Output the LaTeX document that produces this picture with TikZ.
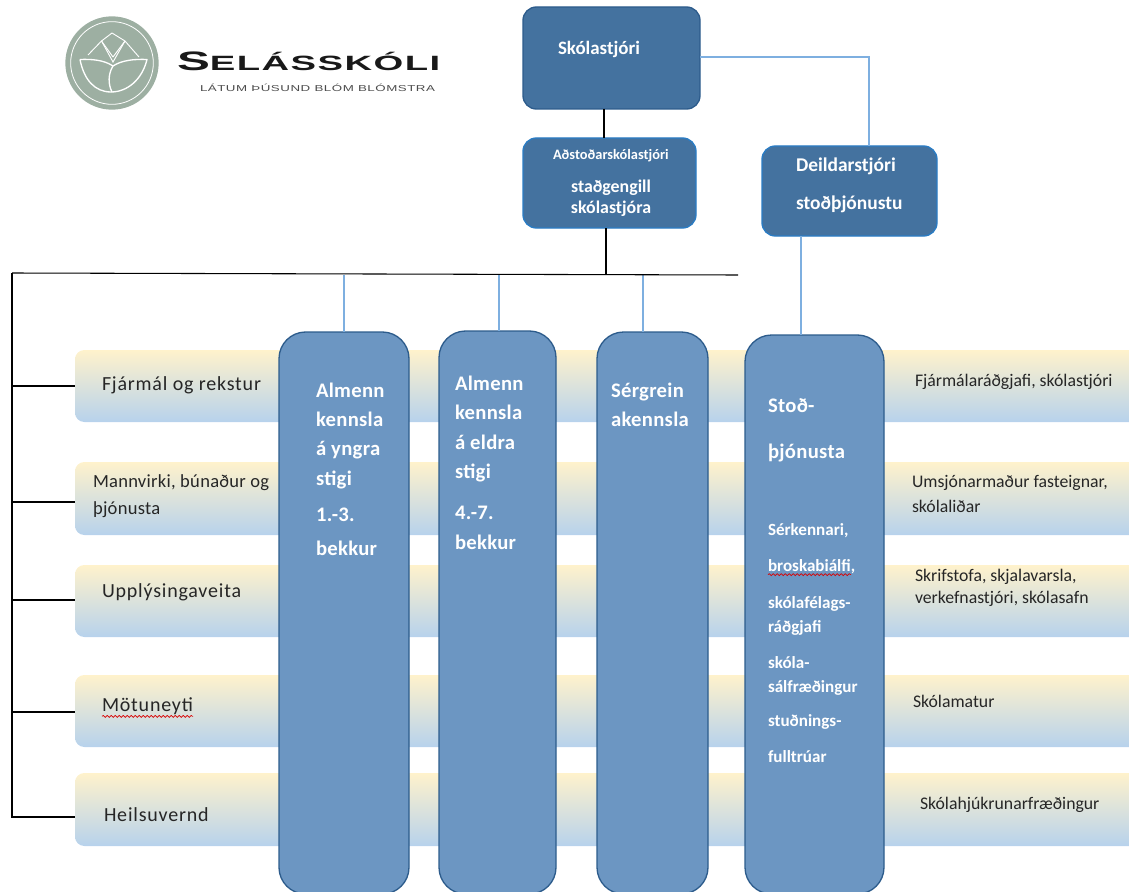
\documentclass[tikz,border=0pt]{standalone}
\usepackage{fontspec}
\setmainfont{Carlito}
\newfontfamily\spaced[LetterSpace=1.5]{Carlito}
\newfontfamily\wide[LetterSpace=4]{Carlito}
\newfontfamily\logofont[FakeStretch=1.85,LetterSpace=7]{Liberation Sans}
\newfontfamily\tagfont[FakeStretch=1.55,LetterSpace=6]{Liberation Sans}
\usetikzlibrary{decorations.pathmorphing}
\definecolor{topblue}{HTML}{44729F}
\definecolor{colblue}{HTML}{6C96C2}
\definecolor{edgeblue}{HTML}{2D5C8C}
\definecolor{brightedge}{HTML}{2A7CC4}
\definecolor{linkblue}{HTML}{7EAFE0}
\definecolor{bandtop}{HTML}{FFF2CC}
\definecolor{bandbot}{HTML}{B7D2EC}
\definecolor{sage}{HTML}{9DAFA2}
\newcommand{\pxbox}[6]{%
  \pgfmathsetmacro{\bw}{(#5-#3)*0.75}\pgfmathsetmacro{\bh}{(#6-#4)*0.75}%
  \node[#2,minimum width=\bw pt,minimum height=\bh pt,anchor=north west] (#1) at (#3,#4) {};}
\newcommand{\lbl}[5]{\node[lbltext,#4] (#1) at (#2,#3) {#5};}
\tikzset{
  lbltext/.style={anchor=north west,inner sep=0pt,outer sep=0pt,align=left,text=black!85},
  coltext/.style={text=white,font=\fontsize{15.5}{22}\selectfont\bfseries\spaced},
  smallcol/.style={text=white,font=\fontsize{12.8}{15}\selectfont\bfseries},
  bandtext/.style={font=\fontsize{15}{18.5}\selectfont\wide},
  righttext/.style={font=\fontsize{13.3}{17}\selectfont},
  band/.style={rectangle,rounded corners=7pt,inner sep=0pt,outer sep=0pt,top color=bandtop,bottom color=bandbot},
  topbox/.style={rectangle,rounded corners=10pt,inner sep=0pt,outer sep=0pt,fill=topblue,draw=edgeblue,line width=1pt},
  topboxb/.style={topbox,draw=brightedge},
  colbox/.style={rectangle,rounded corners=20pt,inner sep=0pt,outer sep=0pt,fill=colblue,draw=edgeblue,line width=1pt},
  blackline/.style={draw=black,line width=0.8pt},
  blueline/.style={draw=linkblue,line width=0.8pt},
  wave/.style={draw=red!85!black,line width=0.5pt,decorate,decoration={snake,amplitude=0.7pt,segment length=3pt}},
}
\begin{document}
\begin{tikzpicture}[x=0.75pt,y=-0.75pt]
\useasboundingbox (0,0) rectangle (1129,892);
\clip (0,0) rectangle (1129,892);
% bands
\pxbox{b1}{band}{75}{350}{1145}{422}
\pxbox{b2}{band}{75}{462}{1145}{535}
\pxbox{b3}{band}{75}{565}{1145}{637}
\pxbox{b4}{band}{75}{675}{1145}{747}
\pxbox{b5}{band}{75}{773}{1145}{846}
% top boxes
\pxbox{sk}{topbox}{523}{7}{700}{109}
\pxbox{ad}{topboxb}{523}{138}{696}{228}
\pxbox{de}{topboxb}{762}{146}{937}{236}
% columns
\pxbox{c1}{colbox}{279}{332}{409}{894}
\pxbox{c2}{colbox}{439}{331}{556}{894}
\pxbox{c3}{colbox}{597}{332}{708}{894}
\pxbox{c4}{colbox}{745}{335}{884}{894}
% spine coordinates
\coordinate (busL) at (12,273);
\coordinate (busR) at (738,275);
\coordinate (spB) at (12,818);
\coordinate (tapA) at (344,275);
\coordinate (tapB) at (499,275);
\coordinate (tapC) at (643,275);
\coordinate (elbow) at (869,57);
\coordinate (s1) at (12,386);
\coordinate (s2) at (12,502);
\coordinate (s3) at (12,600);
\coordinate (s4) at (12,712);
\coordinate (s5) at (12,817);
\coordinate (skR) at (700,57);
\coordinate (skD) at (604,109);
\coordinate (adT) at (604,138);
\coordinate (adB) at (606,228);
\coordinate (adBus) at (606,275);
\coordinate (deT) at (869,146);
\coordinate (deB) at (801,236);
\coordinate (c4T) at (801,335);
% connectors
\draw[blueline] (tapA) -- (344,332);
\draw[blueline] (tapB) -- (499,331);
\draw[blueline] (tapC) -- (643,332);
\draw[blackline] (busL) -- (busR);
\draw[blackline] (busL) -- (spB);
\draw[blackline] (skD) -- (adT);
\draw[blackline] (adB) -- (adBus);
\draw[blackline] (s1) -- (75,386);
\draw[blackline] (s2) -- (75,502);
\draw[blackline] (s3) -- (75,600);
\draw[blackline] (s4) -- (75,712);
\draw[blackline] (s5) -- (75,817);
\draw[blueline] (skR) -- (elbow) -- (deT);
\draw[blueline] (deB) -- (c4T);
% top box labels
\lbl{tsk}{558}{41}{text=white,font=\fontsize{14.2}{17}\selectfont\bfseries}{Skólastjóri}
\lbl{tad1}{553}{149}{text=white,font=\fontsize{10.8}{12}\selectfont\bfseries}{Aðstoðarskólastjóri}
\node[lbltext,anchor=north,text=white,font=\fontsize{13.4}{16}\selectfont\bfseries,align=center] (tad2) at (611,180) {staðgengill\\skólastjóra};
\lbl{tde}{796}{158}{text=white,font=\fontsize{14.6}{28.5}\selectfont\bfseries}{Deildarstjóri\\stoðþjónustu}
% column labels
\lbl{tc1}{316}{382.5}{coltext}{Almenn\\kennsla\\á yngra\\stigi\\[5pt]1.-3.\\[4pt]bekkur}
\lbl{tc2}{455}{376}{coltext}{Almenn\\kennsla\\á eldra\\stigi\\[9pt]4.-7.\\[0pt]bekkur}
\lbl{tc3}{611}{383}{coltext}{Sérgrein\\akennsla}
\lbl{tc4}{768}{399}{coltext,font=\fontsize{15.5}{34}\selectfont\bfseries\spaced}{Stoð-\\þjónusta}
\lbl{tc5}{768}{524}{smallcol}{Sérkennari,}
\lbl{tc6}{768}{559}{smallcol}{broskabiálfi,}
\lbl{tc7}{768}{597}{smallcol,font=\fontsize{12.8}{17.5}\selectfont\bfseries}{skólafélags-\\ráðgjafi}
\lbl{tc8}{768}{657}{smallcol,font=\fontsize{12.8}{18}\selectfont\bfseries}{skóla-\\sálfræðingur}
\lbl{tc9}{768}{715}{smallcol,font=\fontsize{12.8}{27}\selectfont\bfseries}{stuðnings-\\fulltrúar}
\draw[wave] ([yshift=-1pt]tc6.south west) -- ([xshift=-3pt,yshift=-1pt]tc6.south east);
% band labels left
\lbl{t1}{102}{377}{bandtext}{Fjármál og rekstur}
\lbl{t2}{93}{475}{bandtext,font=\fontsize{13.9}{19.7}\selectfont\spaced}{Mannvirki, búnaður og\\þjónusta}
\lbl{t3}{102}{584}{bandtext}{Upplýsingaveita}
\lbl{t4}{102}{698}{bandtext}{Mötuneyti}
\lbl{t5}{104}{808}{bandtext}{Heilsuvernd}
\draw[wave] ([yshift=-1pt]t4.south west) -- ([yshift=-1pt]t4.south east);
% band labels right
\lbl{r1}{915}{374}{righttext}{Fjármálaráðgjafi, skólastjóri}
\lbl{r2}{912}{475}{righttext,font=\fontsize{13.3}{19}\selectfont}{Umsjónarmaður fasteignar,\\skólaliðar}
\lbl{r3}{915}{569}{righttext}{Skrifstofa, skjalavarsla,\\verkefnastjóri, skólasafn}
\lbl{r4}{913}{695}{righttext}{Skólamatur}
\lbl{r5}{920}{797}{righttext}{Skólahjúkrunarfræðingur}
% logo
\fill[sage] (112,63) circle[radius=35pt];
\draw[white,line width=0.6pt] (112,63) circle[radius=31pt];
\draw[white,line width=1pt,line join=round] (80,59.5) .. controls (84,80) and (95,92) .. (111,92) .. controls (127,92) and (142,80) .. (147,59.5) .. controls (135,59) and (122,60) .. (113,66) .. controls (104,60) and (92,59) .. (80,59.5);
\draw[white,line width=1pt] (113,66) .. controls (108,74) and (108,84) .. (112,92);
\draw[white,line width=0.7pt,line join=round] (88,55) -- (101.5,41) -- (113,57) -- (125,41) -- (139,57);
\draw[white,line width=0.7pt,line join=round] (101.5,41) -- (112,33) -- (125,41);
\draw[white,line width=0.7pt] (101.5,41) -- (113,62) -- (125,41);
\node[lbltext,anchor=base west,text=black!90,font=\fontsize{20}{20}\selectfont\logofont\bfseries] (logoA) at (177,71) {S\fontsize{15.5}{20}\selectfont ELÁSSKÓLI};
\node[lbltext,anchor=base west,text=black!70,font=\fontsize{6.45}{8}\selectfont\tagfont] (logoB) at (200,92) {LÁTUM ÞÚSUND BLÓM BLÓMSTRA};
\end{tikzpicture}
\end{document}
